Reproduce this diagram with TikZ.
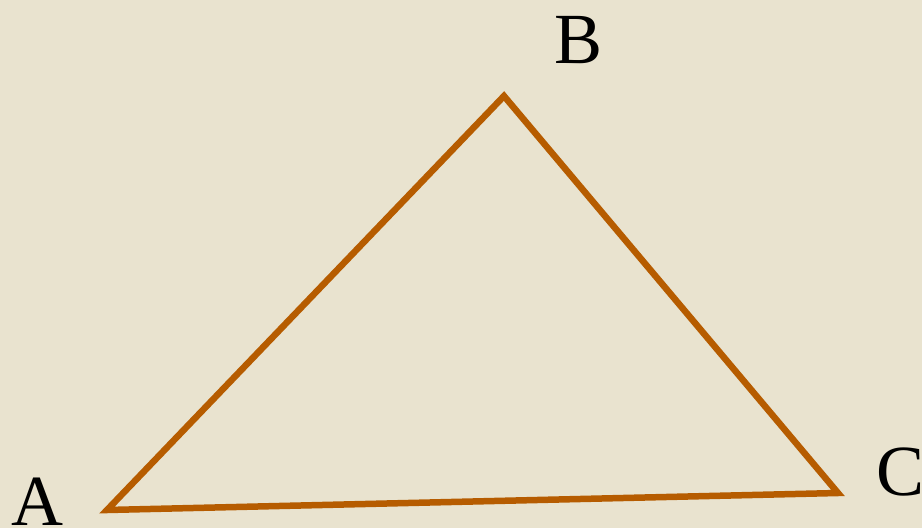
\documentclass[tikz,border=0pt]{standalone}
\usepackage{fontspec}
\setmainfont{Liberation Serif}
\definecolor{bg}{HTML}{E9E3CF}
\definecolor{edge}{HTML}{B65C00}
\tikzset{
  vlabel/.style={anchor=base, inner sep=0pt, font=\fontsize{72}{72}\selectfont, text=black},
  side/.style={draw=edge, line width=6.5pt, line join=miter}
}
\begin{document}
\begin{tikzpicture}[x=1pt,y=-1pt]
\fill[bg] (0,0) rectangle (922,528);
\useasboundingbox (0,0) rectangle (922,528);
\coordinate (A) at (107,510);
\coordinate (B) at (504,96);
\coordinate (C) at (838,493);
\draw[side] (A) -- (B) -- (C) -- cycle;
\node[vlabel] (la) at (37,525) {A};
\node[vlabel] (lb) at (579,63) {B};
\node[vlabel] (lc) at (901,495) {C};
\end{tikzpicture}
\end{document}
